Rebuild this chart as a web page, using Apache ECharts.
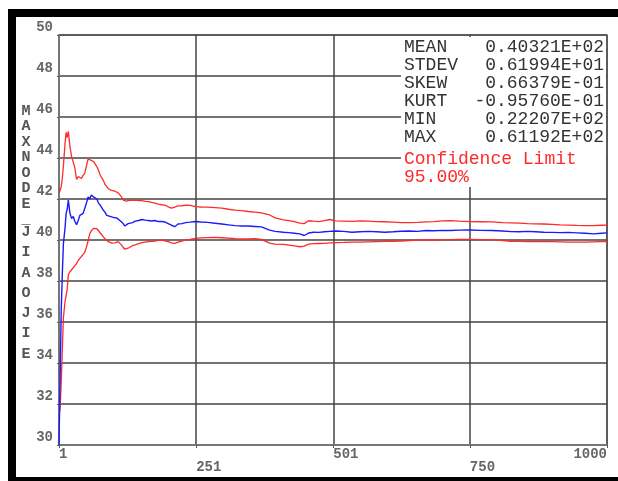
<!DOCTYPE html>
<html>
<head>
<meta charset="utf-8">
<script src="https://cdn.jsdelivr.net/npm/echarts@6/dist/echarts.min.js"></script>
<style>
  html, body { margin: 0; padding: 0; background: #fff; }
  #chart { width: 618px; height: 481px; }
</style>
</head>
<body>
<div id="chart"></div>
<script>
// Sample index (x) of each recorded step
const steps = [1, 3, 5, 7, 9, 12, 14, 16, 18, 21, 24, 27, 30, 33, 36, 39, 42, 45, 48, 51, 54, 57, 60, 64, 67, 70, 73, 76, 82, 85, 88, 91, 94, 97, 100, 103, 106, 109, 112, 115, 118, 121, 124, 127, 130, 135, 140, 146, 152, 158, 164, 170, 176, 182, 188, 194, 200, 206, 212, 218, 225, 232, 240, 250, 260, 272, 285, 298, 310, 322, 334, 346, 358, 370, 385, 395, 410, 420, 430, 440, 448, 456, 465, 475, 485, 495, 505, 520, 535, 550, 565, 580, 595, 610, 625, 640, 655, 670, 685, 700, 715, 730, 750, 770, 790, 810, 825, 840, 855, 870, 885, 900, 915, 930, 945, 960, 975, 990, 1000];

// Running mean of MAXNODE_JIAOJIE
const meanVals = [30.0, 33.2, 36.5, 38.3, 39.8, 40.6, 41.3, 41.5, 41.95, 41.3, 41.05, 41.15, 40.9, 40.75, 40.95, 41.2, 41.15, 41.3, 41.55, 41.8, 42.1, 42.0, 42.2, 42.1, 42.15, 42.0, 41.8, 41.7, 41.45, 41.35, 41.2, 41.2, 41.15, 41.15, 41.1, 41.12, 41.08, 41.0, 40.95, 40.9, 40.8, 40.68, 40.72, 40.8, 40.78, 40.85, 40.92, 40.95, 41.0, 40.97, 40.95, 40.93, 40.95, 40.9, 40.9, 40.88, 40.8, 40.72, 40.65, 40.78, 40.8, 40.85, 40.87, 40.9, 40.88, 40.86, 40.82, 40.78, 40.74, 40.7, 40.68, 40.68, 40.66, 40.64, 40.48, 40.42, 40.38, 40.36, 40.33, 40.3, 40.22, 40.34, 40.38, 40.37, 40.4, 40.42, 40.44, 40.42, 40.38, 40.4, 40.42, 40.4, 40.38, 40.4, 40.43, 40.44, 40.42, 40.46, 40.45, 40.47, 40.46, 40.48, 40.49, 40.47, 40.46, 40.44, 40.41, 40.4, 40.42, 40.4, 40.38, 40.37, 40.36, 40.37, 40.35, 40.33, 40.3, 40.33, 40.35];

// Upper 95% confidence limit
const upperVals = [42.3, 42.4, 42.6, 43.0, 43.6, 44.7, 45.25, 45.0, 45.3, 44.55, 44.05, 43.8, 43.5, 42.95, 43.1, 43.05, 43.0, 43.15, 43.25, 43.6, 43.95, 44.0, 43.88, 43.82, 43.7, 43.58, 43.4, 43.17, 42.9, 42.7, 42.6, 42.5, 42.44, 42.42, 42.4, 42.38, 42.35, 42.3, 42.25, 42.1, 41.95, 41.87, 41.9, 41.95, 41.95, 41.93, 41.95, 41.92, 41.92, 41.88, 41.87, 41.84, 41.8, 41.75, 41.72, 41.7, 41.62, 41.56, 41.6, 41.66, 41.67, 41.7, 41.69, 41.63, 41.61, 41.6, 41.58, 41.55, 41.5, 41.46, 41.43, 41.39, 41.36, 41.32, 41.22, 41.08, 40.98, 40.95, 40.9, 40.82, 40.8, 40.94, 40.92, 40.9, 40.95, 41.0, 40.93, 40.92, 40.91, 40.93, 40.92, 40.9, 40.89, 40.87, 40.85, 40.85, 40.86, 40.88, 40.9, 40.93, 40.95, 40.92, 40.9, 40.89, 40.88, 40.85, 40.84, 40.82, 40.8, 40.79, 40.78, 40.76, 40.74, 40.73, 40.71, 40.7, 40.7, 40.72, 40.73];

// Lower 95% confidence limit
const lowerVals = [31.4, 31.8, 33.0, 34.6, 36.2, 37.0, 37.3, 37.6, 38.3, 38.45, 38.55, 38.6, 38.75, 38.85, 39.0, 39.1, 39.2, 39.3, 39.4, 39.65, 39.95, 40.3, 40.45, 40.57, 40.55, 40.55, 40.45, 40.4, 40.15, 40.05, 39.98, 39.92, 39.88, 39.85, 39.84, 39.86, 39.9, 39.92, 39.85, 39.75, 39.67, 39.55, 39.52, 39.6, 39.67, 39.72, 39.76, 39.82, 39.87, 39.9, 39.92, 39.93, 39.95, 39.98, 40.0, 39.96, 39.92, 39.86, 39.84, 39.9, 39.94, 40.0, 40.03, 40.08, 40.1, 40.12, 40.13, 40.11, 40.09, 40.06, 40.05, 40.05, 40.06, 40.03, 39.85, 39.8, 39.79, 39.75, 39.71, 39.67, 39.7, 39.8, 39.82, 39.83, 39.84, 39.86, 39.87, 39.88, 39.9, 39.9, 39.91, 39.92, 39.93, 39.94, 39.95, 39.97, 39.99, 40.0, 40.0, 40.01, 40.02, 40.03, 40.03, 40.02, 40.02, 39.97, 39.94, 39.93, 39.92, 39.92, 39.92, 39.92, 39.91, 39.9, 39.9, 39.9, 39.91, 39.92, 39.92];

// Axis ticks
const xTicks = [1, 251, 501, 750, 1000];
const xTicksLowerRow = [251, 750];
const yMin = 30, yMax = 50, yStep = 2;

// Statistics block
const statNames = ['MEAN', 'STDEV', 'SKEW', 'KURT', 'MIN', 'MAX'];
const statValues = ['0.40321E+02', '0.61994E+01', '0.66379E-01', '-0.95760E-01', '0.22207E+02', '0.61192E+02'];
const confLines = ['Confidence Limit', '95.00%'];
const axisTitleTop = 'MAXNODE';
const axisTitleJoin = '_';
const axisTitleBottom = 'JIAOJIE';

const MONO = '"Liberation Mono", "DejaVu Sans Mono", monospace';
const chart = echarts.init(document.getElementById('chart'), null, { renderer: 'canvas' });

const toPairs = vals => steps.map((s, i) => [s, vals[i]]);

const graphics = [];
// plot-area frame: black bars on top, left and bottom
graphics.push({ type: 'rect', z: 100, shape: { x: 8, y: 9, width: 610, height: 8 }, style: { fill: '#000' } });
graphics.push({ type: 'rect', z: 100, shape: { x: 8, y: 9, width: 8, height: 472 }, style: { fill: '#000' } });
graphics.push({ type: 'rect', z: 100, shape: { x: 8, y: 477, width: 610, height: 4 }, style: { fill: '#000' } });
// white panel behind the statistics
graphics.push({ type: 'rect', z: 10, shape: { x: 401, y: 37, width: 205, height: 150 }, style: { fill: '#fff' } });
statNames.forEach((name, i) => {
  const y = 47 + 18.1 * i;
  graphics.push({ type: 'text', z: 11, x: 404, y: y, style: { text: name, font: '18px ' + MONO, fill: '#333', verticalAlign: 'middle' } });
  graphics.push({ type: 'text', z: 11, x: 604, y: y, style: { text: statValues[i], font: '18px ' + MONO, fill: '#333', align: 'right', verticalAlign: 'middle' } });
});
confLines.forEach((t, i) => {
  graphics.push({ type: 'text', z: 11, x: 404, y: 159.5 + 17.5 * i, style: { text: t, font: '18px ' + MONO, fill: '#ff2a2a', verticalAlign: 'middle' } });
});
// vertical axis title, one letter per line
graphics.push({ type: 'text', z: 11, x: 26, y: 103, style: { text: axisTitleTop.split('').join('\n'), font: 'bold 15px ' + MONO, fill: '#555', align: 'center', verticalAlign: 'top', lineHeight: 15.5 } });
graphics.push({ type: 'text', z: 11, x: 26, y: 212, style: { text: axisTitleJoin, font: 'bold 15px ' + MONO, fill: '#555', align: 'center', verticalAlign: 'top', lineHeight: 15 } });
graphics.push({ type: 'text', z: 11, x: 26, y: 222, style: { text: axisTitleBottom.split('').join('\n'), font: 'bold 15px ' + MONO, fill: '#555', align: 'center', verticalAlign: 'top', lineHeight: 20.3 } });

const option = {
  animation: false,
  backgroundColor: '#fff',
  grid: { left: 59, right: 11, top: 35, bottom: 36, show: true, borderColor: '#888', borderWidth: 1.5, outerBoundsMode: 'none' },
  xAxis: {
    type: 'value', min: 1, max: 1000,
    axisLine: { show: true, lineStyle: { color: '#777', width: 2 } },
    axisTick: { show: true, length: 3, customValues: xTicks, lineStyle: { color: '#555' } },
    axisLabel: {
      customValues: xTicks, margin: 3, align: 'left', alignMaxLabel: 'right',
      fontFamily: MONO, fontSize: 14, fontWeight: 'bold', color: '#666', lineHeight: 13,
      formatter: v => (xTicksLowerRow.indexOf(v) >= 0 ? '\n' + v : String(v))
    },
    splitLine: { show: true, lineStyle: { color: '#444', width: 1.5 } }
  },
  yAxis: {
    type: 'value', min: yMin, max: yMax, interval: yStep,
    axisLine: { show: true, lineStyle: { color: '#777', width: 2 } },
    axisTick: { show: true, length: 2, lineStyle: { color: '#555' } },
    axisLabel: { margin: 6, fontFamily: MONO, fontSize: 14, fontWeight: 'bold', color: '#666', verticalAlign: 'bottom', lineHeight: 14, padding: [0, 0, 1, 0] },
    splitLine: { show: true, lineStyle: { color: '#444', width: 1.5 } }
  },
  graphic: graphics,
  series: [
    { type: 'line', data: toPairs(upperVals), showSymbol: false, lineStyle: { color: '#ff2a2a', width: 1.3 }, z: 3 },
    { type: 'line', data: toPairs(lowerVals), showSymbol: false, lineStyle: { color: '#ff2a2a', width: 1.3 }, z: 3 },
    { type: 'line', data: toPairs(meanVals), showSymbol: false, lineStyle: { color: '#1a1aff', width: 1.4 }, z: 4 }
  ]
};
chart.setOption(option);
</script>
</body>
</html>
